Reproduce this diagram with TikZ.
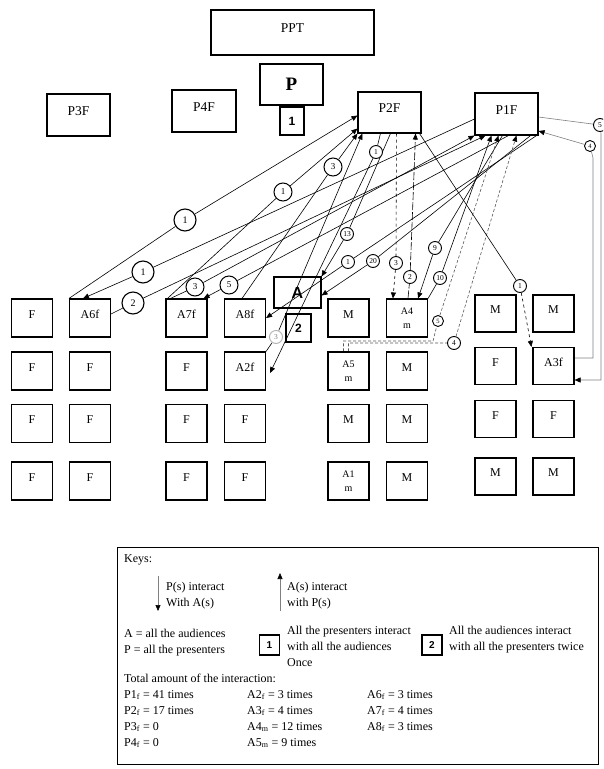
\documentclass[tikz,border=0pt]{standalone}
\usepackage{fontspec}
\setmainfont{Liberation Serif}
\newfontfamily\lsans{Liberation Sans}
\usetikzlibrary{arrows.meta,backgrounds}
\begin{document}
\begin{tikzpicture}[x=1pt,y=-1pt,
  bx/.style={draw, line width=1.1pt, inner sep=0pt},
  tup/.style={text height=#1, text depth=#1},
  pbox/.style={bx, tup=9pt, minimum width=63pt, minimum height=42pt, font=\fontsize{13.5}{15}\selectfont},
  gbox/.style={bx, tup=8pt, minimum width=41pt, minimum height=38pt, font=\fontsize{12}{14}\selectfont},
  rbox/.style={gbox, minimum height=37pt},
  mbox/.style={bx, minimum width=41pt, minimum height=38pt, align=center, font=\fontsize{10}{14}\selectfont},
  sq/.style={bx, font=\lsans\bfseries\fontsize{12}{12}\selectfont},
  lb/.style={circle, draw, fill=white, inner sep=0pt, line width=0.9pt},
  lbB/.style={lb, minimum size=22pt, line width=1.1pt, font=\fontsize{10}{10}\selectfont},
  lbM/.style={lb, minimum size=18pt, line width=1pt, font=\fontsize{9}{9}\selectfont},
  lbS/.style={lb, minimum size=13pt, font=\fontsize{7.5}{7.5}\selectfont},
  lbT/.style={lb, minimum size=11pt, font=\fontsize{6.5}{6.5}\selectfont},
  arr/.style={-{Triangle[length=6pt,width=5pt,black]}},
  con/.style={line width=0.6pt},
  cona/.style={con, arr},
  kt/.style={anchor=base west, inner sep=0pt, font=\fontsize{12}{14}\selectfont},
]
\useasboundingbox (0,0) rectangle (603,769);
\clip (0,0) rectangle (603,769);

% top boxes
\node[pbox, minimum width=163pt, minimum height=45pt] (PPT) at (292.5,32.5) {PPT};
\node[bx, minimum width=63pt, minimum height=41pt, font=\bfseries\fontsize{19}{20}\selectfont] (P) at (291.5,84.5) {P};
\node[sq, minimum width=24pt, minimum height=28pt] (one) at (292,121) {1};
\node[pbox] (P3F) at (78.5,115) {P3F};
\node[pbox, minimum width=64pt] (P4F) at (204,111) {P4F};
\node[pbox, minimum height=41pt] (P2F) at (389.5,112.5) {P2F};
\node[pbox] (P1F) at (506.5,114) {P1F};

% A and 2
\node[bx, minimum width=47pt, minimum height=31pt, font=\lsans\bfseries\fontsize{16}{16}\selectfont] (A) at (297.5,292.5) {A};
\node[sq, minimum width=25pt, minimum height=28pt] (two) at (298.5,328) {2};

% grid row 1
\node[gbox] (g11) at (32,318) {F};
\node[gbox] (A6f) at (90,318) {A6f};
\node[gbox] (A7f) at (186.5,318) {A7f};
\node[gbox] (A8f) at (245,318) {A8f};
\node[gbox] (g15) at (348.5,318) {M};
\node[mbox] (A4m) at (407,318) {A4\\m};
\node[rbox] (g17) at (495.5,313.5) {M};
\node[rbox] (g18) at (553.5,313.5) {M};
% row 2
\node[gbox] (g21) at (32,371) {F};
\node[gbox] (g22) at (90,371) {F};
\node[gbox] (g23) at (186.5,371) {F};
\node[gbox] (A2f) at (245,371) {A2f};
\node[mbox] (A5m) at (348.5,371) {A5\\m};
\node[gbox] (g26) at (407,371) {M};
\node[rbox] (g27) at (495.5,366) {F};
\node[rbox] (A3f) at (553.5,366) {A3f};
% row 3
\node[gbox] (g31) at (32,423.5) {F};
\node[gbox] (g32) at (90,423.5) {F};
\node[gbox] (g33) at (186.5,423.5) {F};
\node[gbox] (g34) at (245,423.5) {F};
\node[gbox] (g35) at (348.5,423.5) {M};
\node[gbox] (g36) at (407,423.5) {M};
\node[rbox] (g37) at (495.5,419) {F};
\node[rbox] (g38) at (553.5,419) {F};
% row 4
\node[gbox] (g41) at (32,481) {F};
\node[gbox] (g42) at (90,481) {F};
\node[gbox] (g43) at (186.5,481) {F};
\node[gbox] (g44) at (245,481) {F};
\node[mbox] (A1m) at (348.5,481) {A1\\m};
\node[gbox] (g46) at (407,481) {M};
\node[rbox] (g47) at (495.5,476.5) {M};
\node[rbox] (g48) at (553.5,476.5) {M};

% label circles
\node[lbB] (l1) at (185,220) {1};
\node[lbB] (l2) at (143,272) {1};
\node[lbB] (l3) at (133,303) {2};
\node[lbM] (l4) at (283,192) {1};
\node[lbM] (l5) at (195,287) {3};
\node[lbM] (l6) at (229,285) {5};
\node[lbM] (l7) at (333,167) {3};
\node[lbS, draw=gray!60, text=gray] (l8) at (276,337) {3};
\node[lbS] (l9) at (376,152) {1};
\node[lbS] (l10) at (347,234) {13};
\node[lbS] (l11) at (373,261) {20};
\node[lbS] (l12) at (348,262) {1};
\node[lbS] (l13) at (396,263) {3};
\node[lbS] (l14) at (410,277) {2};
\node[lbS] (l15) at (435,248) {9};
\node[lbS] (l16) at (440,278) {10};
\node[lbT] (l17) at (438,321) {5};
\node[lbS] (l18) at (454,343) {4};
\node[lbS] (l19) at (520,286) {1};
\node[lbT] (l20) at (590,146) {4};
\node[lbS] (l21) at (600,125) {5};

\coordinate (b17) at (433,341);
\coordinate (c20) at (593,158);
\coordinate (c21) at (601,134);

% keys
\node[draw, line width=1.1pt, minimum width=481pt, minimum height=217pt, anchor=north west, inner sep=0pt] (keys) at (117,547) {};
\node[kt] (k0) at (124,562) {Keys:};
\node[kt] (k1) at (166,590) {P(s) interact};
\node[kt] (k2) at (166,606) {With A(s)};
\node[kt] (k3) at (287,590) {A(s) interact};
\node[kt] (k4) at (287,606) {with P(s)};
\node[kt] (k5) at (124,637) {A = all the audiences};
\node[kt] (k6) at (124,653) {P = all the presenters};
\node[sq, minimum width=20pt, minimum height=20pt, font=\lsans\bfseries\fontsize{10}{10}\selectfont] (kone) at (269.5,645) {1};
\node[kt] (k7) at (287,634) {All the presenters interact};
\node[kt] (k8) at (287,650) {with all the audiences};
\node[kt] (k9) at (287,666) {Once};
\node[sq, minimum width=20pt, minimum height=20pt, font=\lsans\bfseries\fontsize{10}{10}\selectfont] (ktwo) at (432,645) {2};
\node[kt] (k10) at (449,634) {All the audiences interact};
\node[kt] (k11) at (449,650) {with all the presenters twice};
\node[kt] (k12) at (124,682) {Total amount of the interaction:};
\node[kt] (t1) at (124,698) {P1\textsubscript{f} = 41 times};
\node[kt] (t2) at (124,714) {P2\textsubscript{f} = 17 times};
\node[kt] (t3) at (124,730) {P3\textsubscript{f} = 0};
\node[kt] (t4) at (124,746) {P4\textsubscript{f} = 0};
\node[kt] (t5) at (247,698) {A2\textsubscript{f} = 3 times};
\node[kt] (t6) at (247,714) {A3\textsubscript{f} = 4 times};
\node[kt] (t7) at (247,730) {A4\textsubscript{m} = 12 times};
\node[kt] (t8) at (247,746) {A5\textsubscript{m} = 9 times};
\node[kt] (t9) at (367,698) {A6\textsubscript{f} = 3 times};
\node[kt] (t10) at (367,714) {A7\textsubscript{f} = 4 times};
\node[kt] (t11) at (367,730) {A8\textsubscript{f} = 3 times};
\coordinate (kd1) at (158,576);
\coordinate (kd2) at (158,611);
\coordinate (ku1) at (280,611);
\coordinate (ku2) at (280,573);

\begin{scope}[on background layer]
\fill[white] (0,0) rectangle (603,769);
\draw[cona] (A6f.north west) -- (l1) -- ([yshift=-3pt]P2F.west);
\draw[cona] ([yshift=-5pt]P1F.west) -- (l2) -- ([xshift=-7pt]A6f.north);
\draw[cona] ([yshift=4pt]A6f.east) -- (l3) -- ([xshift=11pt]P1F.south west);
\draw[cona] ([xshift=2pt]A7f.north west) -- (l4) -- ([yshift=5pt]P2F.south west);
\draw[cona] ([xshift=5pt]A7f.north west) -- (l5) -- (P1F.south west);
\draw[cona] ([xshift=34pt]P1F.south west) -- (l6) -- ([xshift=-4pt]A7f.north east);
\draw[cona] ([xshift=-3pt]A8f.north) -- (l7) -- (P2F.south west);
\draw[cona] (A2f.north east) -- (l8) -- ([xshift=5pt]P2F.south west);
\draw[cona] ([xshift=23pt]P2F.south west) -- (l9) -- ([xshift=4pt,yshift=-2pt]A2f.east);
\draw[cona] ([xshift=33pt]P2F.south west) -- (l10) -- (A.north east);
\draw[cona] ([xshift=-8pt]P1F.south east) -- (l11) -- ([yshift=-3pt]A.east);
\draw[cona] ([xshift=-2pt]P1F.south east) -- (l12) -- (A8f.east);
\draw[cona, dashed] ([xshift=39pt]P2F.south west) -- (l13) -- ([xshift=7pt]A4m.north west);
\draw[cona, dash pattern=on 8pt off 2pt] ([xshift=1pt]A4m.north) -- (l14) -- ([xshift=-6pt]P2F.south east);
\draw[cona] ([xshift=28pt]P1F.south west) -- (l15) -- ([xshift=-10pt]A4m.north east);
\draw[cona] (A4m.north east) -- (l16) -- ([xshift=17pt]P1F.south west);
\draw[cona, gray!70!black, densely dashed] ([xshift=-5pt]A5m.north) |- (b17) -- (l17) -- ([xshift=24pt]P1F.south west);
\draw[cona, gray!70!black, densely dashed] (A5m.north) |- (l18) -- ([xshift=42pt]P1F.south west);
\draw[con] ([xshift=-2pt]P2F.south east) -- (l19);
\draw[cona, dashed] (l19) -- ([xshift=-1pt]A3f.north west);
\draw[cona, gray] ([yshift=8pt]A3f.east) -| (c20) -- (l20) -- ([yshift=-17pt]P1F.east);
\draw[cona, gray] ([yshift=-3pt]P1F.east) -- (l21) -- (c21) |- ([yshift=-14pt]A3f.east);
\draw[cona, gray] (kd1) -- (kd2);
\draw[cona, gray] (ku1) -- (ku2);
\end{scope}
\end{tikzpicture}
\end{document}
